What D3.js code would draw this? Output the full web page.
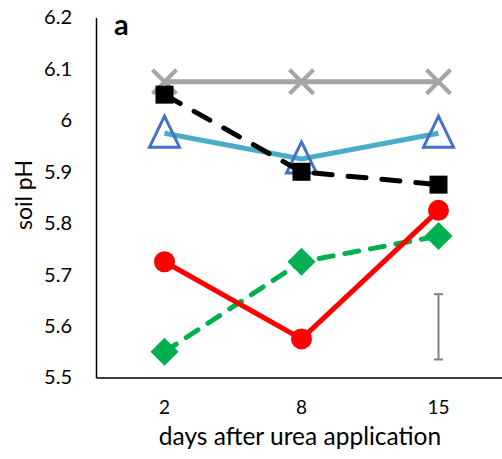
<!DOCTYPE html>
<html><head><meta charset="utf-8">
<script src="https://cdn.jsdelivr.net/npm/d3@7"></script>
<style>body{margin:0;background:#fff}svg{display:block}text{font-family:Lato,"Open Sans",sans-serif}</style>
</head><body><svg id="c" width="502" height="459"></svg>
<script>
const days = ["2", "8", "15"];
const yTicks = [5.5, 5.6, 5.7, 5.8, 5.9, 6.0, 6.1, 6.2];
const grayX = [6.075, 6.075, 6.075];
const blackSquare = [6.05, 5.90, 5.875];
const blueTriangle = [5.975, 5.925, 5.975];
const redCircle = [5.725, 5.575, 5.825];
const greenDiamond = [5.55, 5.725, 5.775];
const errBar = {day: "15", lo: 5.535, hi: 5.662};

const svg = d3.select("#c");
const x = d3.scaleBand().domain(days).range([96, 507]);
const y = d3.scaleLinear().domain([5.5, 6.2]).range([377.5, 17.5]);
const cx = d => x(d) + x.bandwidth() / 2;

// axes
const yAx = svg.append("g").attr("transform", "translate(96,0)")
  .call(d3.axisLeft(y).tickValues(yTicks).tickSize(0).tickPadding(24).tickFormat(d => String(+d.toFixed(1))));
yAx.select(".domain").attr("stroke", "#000").attr("stroke-width", 1.5);
yAx.selectAll("text").attr("font-size", 20).attr("fill", "#000");
const xAx = svg.append("g").attr("transform", "translate(0,377.5)")
  .call(d3.axisBottom(x).tickSize(0).tickPadding(23));
xAx.select(".domain").attr("stroke", "#000").attr("stroke-width", 1.5);
xAx.selectAll("text").attr("font-size", 19).attr("fill", "#000");

svg.append("text").attr("transform", "translate(32,195) rotate(-90)").attr("text-anchor", "middle")
  .attr("font-size", 23).text("soil pH");
svg.append("text").attr("x", 300).attr("y", 445).attr("text-anchor", "middle")
  .attr("font-size", 24.5).text("days after urea application");
svg.append("text").attr("x", 114).attr("y", 35).attr("font-size", 29).attr("font-weight", "bold").text("a");

const line = d3.line().x((d, i) => cx(days[i])).y(d => y(d));

function series(data, color, dash) {
  svg.append("path").datum(data).attr("d", line).attr("fill", "none").attr("stroke", color)
    .attr("stroke-width", 5).attr("stroke-dasharray", dash || null).attr("stroke-linecap", dash ? "round" : "butt");
}

// gray X
series(grayX, "#a5a5a5");
svg.selectAll(".gx").data(grayX).join("path").attr("d", (d, i) => {
  const px = cx(days[i]), py = y(d), s = 12;
  return `M${px - s},${py - s}L${px + s},${py + s}M${px - s},${py + s}L${px + s},${py - s}`;
}).attr("stroke", "#a5a5a5").attr("stroke-width", 4).attr("fill", "none");

// blue triangles
series(blueTriangle, "#4bacc6");
svg.selectAll(".bt").data(blueTriangle).join("path").attr("d", (d, i) => {
  const px = cx(days[i]), py = y(d);
  return `M${px},${py - 17}L${px + 15},${py + 14}L${px - 15},${py + 14}Z`;
}).attr("fill", "none").attr("stroke", "#4472c4").attr("stroke-width", 3);

// black squares
series(blackSquare, "#000", "18,16");
svg.selectAll(".bs").data(blackSquare).join("rect")
  .attr("x", (d, i) => cx(days[i]) - 9).attr("y", d => y(d) - 9).attr("width", 18).attr("height", 18).attr("fill", "#000");

// green diamonds
series(greenDiamond, "#00b050", "14,12");
svg.selectAll(".gd").data(greenDiamond).join("path").attr("d", (d, i) => {
  const px = cx(days[i]), py = y(d), s = 14;
  return `M${px},${py - s}L${px + s},${py}L${px},${py + s}L${px - s},${py}Z`;
}).attr("fill", "#00b050");

// red circles
series(redCircle, "#ff0000");
svg.selectAll(".rc").data(redCircle).join("circle")
  .attr("cx", (d, i) => cx(days[i])).attr("cy", d => y(d)).attr("r", 10.5).attr("fill", "#ff0000");

// error bar
const ex = cx(errBar.day);
const eb = svg.append("g").attr("stroke", "#7f7f7f").attr("stroke-width", 2);
eb.append("line").attr("x1", ex).attr("x2", ex).attr("y1", y(errBar.lo)).attr("y2", y(errBar.hi));
eb.append("line").attr("x1", ex - 4.5).attr("x2", ex + 4.5).attr("y1", y(errBar.lo)).attr("y2", y(errBar.lo));
eb.append("line").attr("x1", ex - 4.5).attr("x2", ex + 4.5).attr("y1", y(errBar.hi)).attr("y2", y(errBar.hi));
</script></body></html>
